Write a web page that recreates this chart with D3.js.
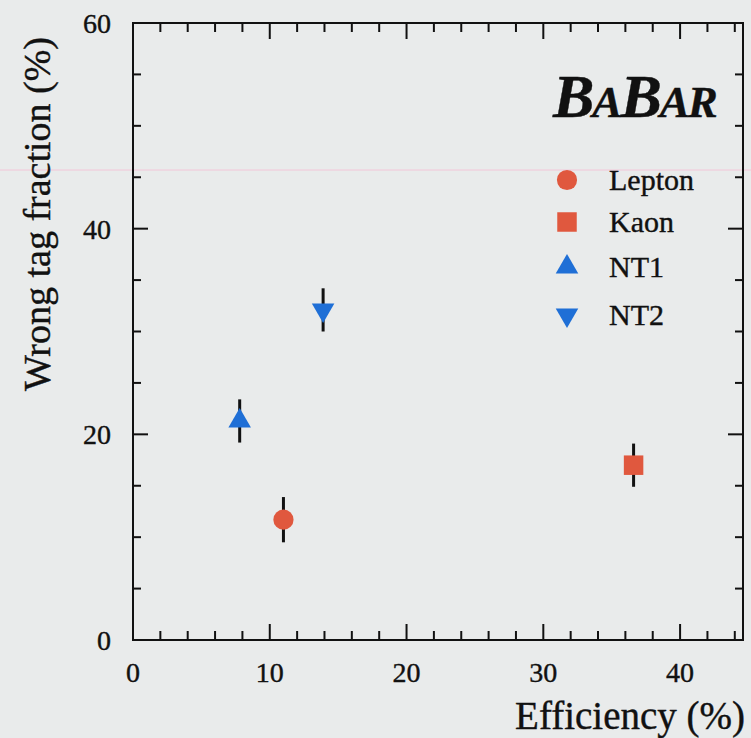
<!DOCTYPE html>
<html><head><meta charset="utf-8">
<script src="https://cdn.jsdelivr.net/npm/d3@7"></script>
<style>
html,body{margin:0;padding:0;background:#e9ebeb;}
svg{display:block;}
text{font-family:"Liberation Serif","Times New Roman",serif;fill:#111;stroke:#111;stroke-width:0.4px;}
</style></head>
<body>
<svg id="c" width="751" height="738"></svg>
<script>
// ---- data ----
const categories = ["Lepton", "Kaon", "NT1", "NT2"];
const efficiency = [11.0, 36.6, 7.8, 13.9];      // x, %
const wrongTag   = [11.7, 17.0, 21.3, 32.1];     // y, %
const wrongTagErr= [2.2, 2.1, 2.1, 2.1];
const symbols    = ["circle", "square", "triangleUp", "triangleDown"];
const colors     = ["#e0583e", "#e0583e", "#1f6fd6", "#1f6fd6"];
const xTicks = [0, 10, 20, 30, 40];
const yTicks = [0, 20, 40, 60];

// ---- layout ----
const svg = d3.select("#c");
const W = 751, H = 738;
const m = {left:133, right:8, top:23, bottom:98};
const x = d3.scaleLinear().domain([0, 44.6]).range([m.left, W - m.right]);
const y = d3.scaleLinear().domain([0, 60]).range([H - m.bottom, m.top]);
const x0 = x.range()[0], x1 = x.range()[1], y0 = y.range()[0], y1 = y.range()[1];

// scan artifact line
svg.append("line").attr("x1",0).attr("x2",W).attr("y1",170).attr("y2",170)
  .attr("stroke","#f2c6d8").attr("stroke-width",1);

const g = svg.append("g");
// frame
g.append("rect").attr("x",x0).attr("y",y1).attr("width",x1-x0).attr("height",y0-y1)
  .attr("fill","none").attr("stroke","#111").attr("stroke-width",2);

// ticks (inward, all four sides)
const xMinor = d3.range(0, 44.6, 2);
const yMinor = d3.range(0, 60.01, 5);
xMinor.forEach(v => {
  const major = v % 10 === 0;
  const L = major ? 16 : 9;
  if (v === 0) return;
  g.append("line").attr("x1",x(v)).attr("x2",x(v)).attr("y1",y0).attr("y2",y0-L).attr("stroke","#111").attr("stroke-width",2);
  g.append("line").attr("x1",x(v)).attr("x2",x(v)).attr("y1",y1).attr("y2",y1+L).attr("stroke","#111").attr("stroke-width",2);
});
yMinor.forEach(v => {
  const major = v % 20 === 0;
  const L = major ? 15 : 8;
  if (v === 0 || v === 60) return;
  g.append("line").attr("x1",x0).attr("x2",x0+L).attr("y1",y(v)).attr("y2",y(v)).attr("stroke","#111").attr("stroke-width",2);
  g.append("line").attr("x1",x1).attr("x2",x1-L).attr("y1",y(v)).attr("y2",y(v)).attr("stroke","#111").attr("stroke-width",2);
});

// tick labels
g.selectAll(".xl").data(xTicks).enter().append("text")
  .attr("x", d => x(d)).attr("y", y0 + 42).attr("text-anchor","middle")
  .attr("font-size", 28).text(d => d);
g.selectAll(".yl").data(yTicks).enter().append("text")
  .attr("x", x0 - 22).attr("y", d => y(d) + 10).attr("text-anchor","end")
  .attr("font-size", 28).text(d => d);

// axis titles
svg.append("text").attr("x", 745).attr("y", 729).attr("text-anchor","end")
  .attr("font-size", 39).text("Efficiency (%)");
svg.append("text").attr("transform","translate(50,214) rotate(-90)").attr("text-anchor","middle")
  .attr("font-size", 38).text("Wrong tag fraction (%)");

// data points with error bars
const pts = categories.map((c,i) => ({c, x:efficiency[i], y:wrongTag[i], e:wrongTagErr[i], s:symbols[i], col:colors[i]}));
function symPath(s) {
  if (s === "circle") return d3.symbol(d3.symbolCircle, 320)();
  if (s === "square") return d3.symbol(d3.symbolSquare, 380)();
  return d3.symbol(d3.symbolTriangle, 220)();
}
function drawSym(sel, s, cx, cy, col) {
  const rot = s === "triangleDown" ? 180 : 0;
  sel.append("path").attr("d", symPath(s)).attr("fill", col)
    .attr("transform", `translate(${cx},${cy}) rotate(${rot})`);
}
pts.forEach(p => {
  g.append("line").attr("x1",x(p.x)).attr("x2",x(p.x))
    .attr("y1",y(p.y+p.e)).attr("y2",y(p.y-p.e)).attr("stroke","#111").attr("stroke-width",3);
  drawSym(g, p.s, x(p.x), y(p.y), p.col);
});

// legend
const legY = [180, 222, 267, 315];
pts.forEach((p,i) => {
  drawSym(g, p.s, 567, legY[i], p.col);
  g.append("text").attr("x", 609).attr("y", legY[i] + 10).attr("font-size", 30).text(p.c);
});

// BaBar logo
const logo = svg.append("text").attr("x", 553).attr("y", 117)
  .attr("font-weight","bold").attr("font-style","italic").attr("letter-spacing", -2);
[["B",62],["A",45],["B",62],["AR",45]].forEach(([t,s]) =>
  logo.append("tspan").attr("font-size", s).text(t));
</script>
</body></html>
